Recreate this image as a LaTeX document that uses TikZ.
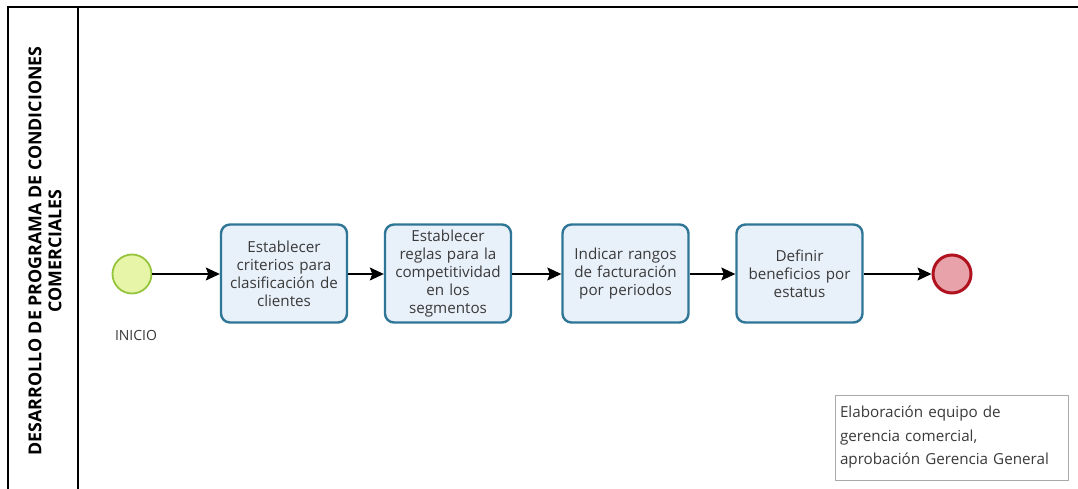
\documentclass[tikz,border=0pt]{standalone}
\usepackage{fontspec}
\setmainfont{Open Sans}
\usetikzlibrary{arrows.meta}
\definecolor{taskfill}{HTML}{E8F0FA}
\definecolor{taskline}{HTML}{2F7595}
\definecolor{startfill}{HTML}{E6F5A8}
\definecolor{startline}{HTML}{96C43C}
\definecolor{endfill}{HTML}{E8A2AA}
\definecolor{endline}{HTML}{B0121F}
\definecolor{txt}{HTML}{3A3A3A}
\definecolor{notegray}{HTML}{AAAAAA}
\begin{document}
\begin{tikzpicture}[x=1pt,y=-1pt,
  task/.style={draw=taskline,fill=taskfill,line width=2.4pt,rounded corners=9pt,
    minimum width=126pt,minimum height=98pt,align=center,text width=126pt,
    font=\fontsize{15.2}{18}\selectfont,text=txt,inner sep=0pt},
  startev/.style={circle,draw=startline,fill=startfill,line width=1.8pt,minimum size=39pt,inner sep=0pt},
  endev/.style={circle,draw=endline,fill=endfill,line width=3pt,minimum size=38pt,inner sep=0pt},
  flow/.style={line width=1.1pt,-{Stealth[length=14pt,width=13pt,inset=2.5pt]}},
  note/.style={draw=notegray,line width=1pt,align=left,font=\fontsize{15.2}{23.5}\selectfont,
    text=txt,inner xsep=5pt,inner ysep=3pt,text width=223pt,minimum height=85pt}
]
\useasboundingbox (0,0) rectangle (1078,489);
\fill[white] (0,0) rectangle (1078,489);

% pool and lane header
\draw[line width=1.6pt] (1078,7) -- (8,7) -- (8,489);
\draw[line width=1.6pt] (78,7) -- (78,489);
\node[rotate=90,align=center,font=\bfseries\fontsize{17.8}{20}\selectfont,text=black] (lane)
  at (45,251) {DESARROLLO DE PROGRAMA DE CONDICIONES\\COMERCIALES};

% events
\node[startev] (start) at (132,274) {};
\node[font=\fontsize{14}{15}\selectfont,text=txt] (startlbl) at (136,335) {INICIO};
\node[endev] (end) at (952,274) {};

% tasks
\node[task] (t1) at (284,273.5) {Establecer\\criterios para\\clasificación de\\clientes};
\node[task] (t2) at (448,273.5) {Establecer\\reglas para la\\competitividad\\en los\\segmentos};
\node[task] (t3) at (625.5,273.5) {Indicar rangos\\de facturación\\por periodos};
\node[task] (t4) at (799.5,273.5) {Definir\\beneficios por\\estatus};

% sequence flows
\draw[flow] (start) -- (start -| t1.west);
\draw[flow] (t1.east |- start) -- (start -| t2.west);
\draw[flow] (t2.east |- start) -- (start -| t3.west);
\draw[flow] (t3.east |- start) -- (start -| t4.west);
\draw[flow] (t4.east |- start) -- (end);

% annotation
\node[note] (memo) at (951.5,437.5) {Elaboración equipo de\\gerencia comercial,\\aprobación Gerencia General};
\end{tikzpicture}
\end{document}
